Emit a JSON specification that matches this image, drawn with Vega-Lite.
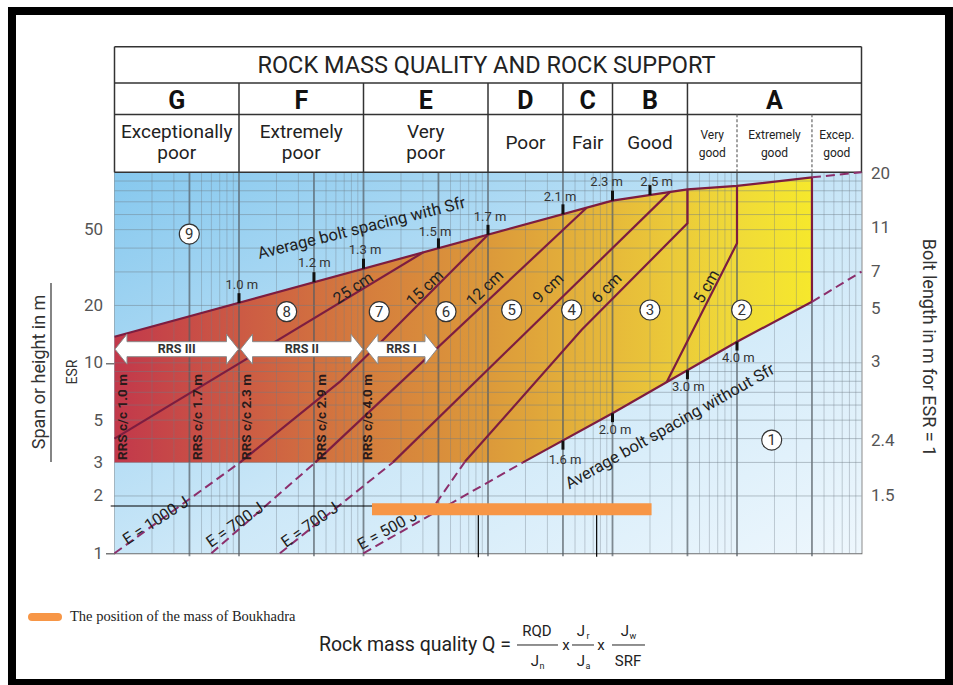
{
"$schema":"https://vega.github.io/schema/vega-lite/v6.json",
"width":747,"height":381,
"autosize":{"type":"none"},
"padding":{"left":114.5,"top":172.3,"right":91.5,"bottom":131.7},
"background":"white",
"config":{"view":{"stroke":"#6e6e6e","strokeWidth":1.2},"font":"Roboto"},
"datasets":{
"bg":[{"q":0.001,"q2":1000,"s":1,"s2":100}],
"area":[{"q":0.001,"s":3,"s2":13.7},{"q":1.91,"s":3,"s2":52.8},{"q":10,"s":5.43,"s2":71},{"q":40,"s":9.14,"s2":81.4},{"q":100,"s":12.9,"s2":84.8},{"q":400,"s":20.9,"s2":94.1}],
"vmin":[{"q":0.002,"s":1,"s2":100},{"q":0.003,"s":1,"s2":100},{"q":0.005,"s":1,"s2":100},{"q":0.006,"s":1,"s2":100},{"q":0.007,"s":1,"s2":100},{"q":0.008,"s":1,"s2":100},{"q":0.009,"s":1,"s2":100},{"q":0.02,"s":1,"s2":100},{"q":0.03,"s":1,"s2":100},{"q":0.05,"s":1,"s2":100},{"q":0.06,"s":1,"s2":100},{"q":0.07,"s":1,"s2":100},{"q":0.08,"s":1,"s2":100},{"q":0.09,"s":1,"s2":100},{"q":0.2,"s":1,"s2":100},{"q":0.3,"s":1,"s2":100},{"q":0.5,"s":1,"s2":100},{"q":0.6,"s":1,"s2":100},{"q":0.7,"s":1,"s2":100},{"q":0.8,"s":1,"s2":100},{"q":0.9,"s":1,"s2":100},{"q":2,"s":1,"s2":100},{"q":3,"s":1,"s2":100},{"q":5,"s":1,"s2":100},{"q":6,"s":1,"s2":100},{"q":7,"s":1,"s2":100},{"q":8,"s":1,"s2":100},{"q":9,"s":1,"s2":100},{"q":20,"s":1,"s2":100},{"q":30,"s":1,"s2":100},{"q":50,"s":1,"s2":100},{"q":60,"s":1,"s2":100},{"q":70,"s":1,"s2":100},{"q":80,"s":1,"s2":100},{"q":90,"s":1,"s2":100},{"q":200,"s":1,"s2":100},{"q":300,"s":1,"s2":100},{"q":500,"s":1,"s2":100},{"q":600,"s":1,"s2":100},{"q":700,"s":1,"s2":100},{"q":800,"s":1,"s2":100},{"q":900,"s":1,"s2":100}],
"vmaj":[{"q":0.004,"s":0.965,"s2":100},{"q":0.01,"s":0.965,"s2":100},{"q":0.04,"s":0.965,"s2":100},{"q":0.1,"s":0.965,"s2":100},{"q":0.4,"s":0.965,"s2":100},{"q":1,"s":0.965,"s2":100},{"q":4,"s":0.965,"s2":100},{"q":10,"s":0.965,"s2":100},{"q":40,"s":0.965,"s2":100},{"q":100,"s":0.965,"s2":100},{"q":400,"s":0.965,"s2":100}],
"hg":[{"q":0.001,"q2":1000,"s":2},{"q":0.001,"q2":1000,"s":3},{"q":0.001,"q2":1000,"s":4},{"q":0.001,"q2":1000,"s":5},{"q":0.001,"q2":1000,"s":6},{"q":0.001,"q2":1000,"s":7},{"q":0.001,"q2":1000,"s":8},{"q":0.001,"q2":1000,"s":9},{"q":0.001,"q2":1000,"s":10},{"q":0.001,"q2":1000,"s":20},{"q":0.001,"q2":1000,"s":30},{"q":0.001,"q2":1000,"s":40},{"q":0.001,"q2":1000,"s":50},{"q":0.001,"q2":1000,"s":60},{"q":0.001,"q2":1000,"s":70},{"q":0.001,"q2":1000,"s":80},{"q":0.001,"q2":1000,"s":90}],
"hdr":[{"q":0.001,"q2":1000,"s":456.3,"s2":456.3},{"q":0.001,"q2":1000,"s":294.2,"s2":294.2},{"q":0.001,"q2":1000,"s":200.9,"s2":200.9},{"q":0.001,"q2":1000,"s":100,"s2":100},{"q":0.001,"q2":0.001,"s":100,"s2":456.3},{"q":1000,"q2":1000,"s":100,"s2":456.3},{"q":0.01,"q2":0.01,"s":100,"s2":294.2},{"q":0.1,"q2":0.1,"s":100,"s2":294.2},{"q":1,"q2":1,"s":100,"s2":294.2},{"q":4,"q2":4,"s":100,"s2":294.2},{"q":10,"q2":10,"s":100,"s2":294.2},{"q":40,"q2":40,"s":100,"s2":294.2}],
"hdash":[{"q":100,"q2":100,"s":100,"s2":200.9},{"q":400,"q2":400,"s":100,"s2":200.9}],
"htitle":[{"q":0.973,"s":362,"t":"ROCK MASS QUALITY AND ROCK SUPPORT"}],
"hlet":[{"q":0.003162,"s":236.8,"t":"G"},{"q":0.03162,"s":236.8,"t":"F"},{"q":0.3162,"s":236.8,"t":"E"},{"q":2,"s":236.8,"t":"D"},{"q":6.325,"s":236.8,"t":"C"},{"q":20,"s":236.8,"t":"B"},{"q":200,"s":236.8,"t":"A"}],
"hdesc":[{"q":0.003162,"s":161.8,"t":"Exceptionally\npoor"},{"q":0.03162,"s":161.8,"t":"Extremely\npoor"},{"q":0.3162,"s":161.8,"t":"Very\npoor"},{"q":2,"s":142.6,"t":"Poor"},{"q":6.325,"s":142.6,"t":"Fair"},{"q":20,"s":142.6,"t":"Good"}],
"hsmall":[{"q":63.25,"s":157,"t":"Very\ngood"},{"q":200,"s":157,"t":"Extremely\ngood"},{"q":632.5,"s":157,"t":"Excep.\ngood"}],
"sol":[{"id":"up","i":0,"q":0.001,"s":13.7},{"id":"up","i":1,"q":10,"s":71},{"id":"up","i":2,"q":40,"s":81.4},{"id":"up","i":3,"q":100,"s":84.8},{"id":"up","i":4,"q":400,"s":94.1},
{"id":"lo","i":0,"q":1.91,"s":3},{"id":"lo","i":1,"q":10,"s":5.43},{"id":"lo","i":2,"q":100,"s":12.9},{"id":"lo","i":3,"q":400,"s":20.9},
{"id":"c25","i":0,"q":0.001,"s":4.0},{"id":"c25","i":1,"q":0.302,"s":38.0},
{"id":"c15","i":0,"q":0.0102,"s":3},{"id":"c15","i":1,"q":0.0647,"s":7.96},{"id":"c15","i":2,"q":0.144,"s":13.2},{"id":"c15","i":3,"q":1,"s":47.0},
{"id":"c12","i":0,"q":0.041,"s":3},{"id":"c12","i":1,"q":6.2,"s":65.2},
{"id":"c9","i":0,"q":0.172,"s":3},{"id":"c9","i":1,"q":29,"s":78.9},
{"id":"c6","i":0,"q":0.654,"s":3.03},{"id":"c6","i":1,"q":5.66,"s":14.9},{"id":"c6","i":2,"q":40,"s":54},{"id":"c6","i":3,"q":40,"s":81.4},
{"id":"c5","i":0,"q":27.2,"s":7.9},{"id":"c5","i":1,"q":100,"s":42.4},{"id":"c5","i":2,"q":100,"s":84.8},
{"id":"r4","i":0,"q":400,"s":20.9},{"id":"r4","i":1,"q":400,"s":94.1}],
"dsh":[{"id":"up2","i":0,"q":400,"s":94.1},{"id":"up2","i":1,"q":1000,"s":100},
{"id":"lo2","i":0,"q":400,"s":20.9},{"id":"lo2","i":1,"q":1000,"s":30.1},
{"id":"lo0","i":0,"q":0.0996,"s":1.0},{"id":"lo0","i":1,"q":1.91,"s":3},
{"id":"e1","i":0,"q":0.001,"s":1},{"id":"e1","i":1,"q":0.0102,"s":3},
{"id":"e2","i":0,"q":0.006,"s":1},{"id":"e2","i":1,"q":0.041,"s":3},
{"id":"e3","i":0,"q":0.0213,"s":1},{"id":"e3","i":1,"q":0.172,"s":3},
{"id":"d6","i":0,"q":0.33,"s":1.59},{"id":"d6","i":1,"q":0.654,"s":3.03}],
"bt":[{"q":0.01,"s":20.6,"s2":23.2},{"q":0.04,"s":26.5,"s2":29.9},{"q":0.1,"s":31.2,"s2":35.2},{"q":0.4,"s":39.9,"s2":45.0},{"q":1,"s":47.0,"s2":53.0},{"q":4,"s":60.2,"s2":67.9},{"q":10,"s":71.0,"s2":80.1},{"q":20,"s":76.0,"s2":85.7},{"q":4,"s":3.9,"s2":3.5},{"q":10,"s":5.43,"s2":4.88},{"q":40,"s":9.14,"s2":8.2},{"q":100,"s":12.9,"s2":11.6}],
"bl":[{"q":0.01052,"s":25.6,"t":"1.0 m"},{"q":0.0402,"s":33.3,"t":"1.2 m"},{"q":0.1028,"s":39.1,"t":"1.3 m"},{"q":0.3753,"s":48.8,"t":"1.5 m"},{"q":1.038,"s":58.5,"t":"1.7 m"},{"q":3.785,"s":74.5,"t":"2.1 m"},{"q":8.98,"s":89.3,"t":"2.3 m"},{"q":22.6,"s":89.3,"t":"2.5 m"},{"q":4.155,"s":3.09,"t":"1.6 m"},{"q":10.47,"s":4.44,"t":"2.0 m"},{"q":40.6,"s":7.49,"t":"3.0 m"},{"q":102.4,"s":10.56,"t":"4.0 m"}],
"ang":[{"q":0.0828,"s":24.6,"t":"25 cm","a":-34,"fs":16},{"q":0.312,"s":24.6,"t":"15 cm","a":-44,"fs":16},{"q":0.946,"s":24.6,"t":"12 cm","a":-44,"fs":16},{"q":3.05,"s":24.6,"t":"9 cm","a":-44,"fs":16},{"q":8.98,"s":24.6,"t":"6 cm","a":-45,"fs":16},{"q":57.1,"s":25.1,"t":"5 cm","a":-60,"fs":16},
{"q":0.0967,"s":50.8,"t":"Average bolt spacing with Sfr","a":-14,"fs":16.5},{"q":28.97,"s":4.62,"t":"Average bolt spacing without Sfr","a":-29.5,"fs":16.5},
{"q":0.002146,"s":1.481,"t":"E = 1000 J","a":-33,"fs":16},{"q":0.00929,"s":1.408,"t":"E = 700 J","a":-35,"fs":16},{"q":0.0372,"s":1.408,"t":"E = 700 J","a":-35,"fs":16},{"q":0.156,"s":1.325,"t":"E = 500 J","a":-29,"fs":16}],
"rrs":[{"q":0.001177,"s":3.09,"t":"RRS  c/c 1.0 m"},{"q":0.00471,"s":3.09,"t":"RRS  c/c 1.7 m"},{"q":0.01153,"s":3.09,"t":"RRS  c/c 2.3 m"},{"q":0.0461,"s":3.09,"t":"RRS  c/c 2.9 m"},{"q":0.1094,"s":3.09,"t":"RRS  c/c 4.0 m"}],
"arr":[{"q":0.003162,"s":11.79,"k":"III","t":"RRS III"},{"q":0.03192,"s":11.79,"k":"II","t":"RRS II"},{"q":0.2019,"s":11.79,"k":"I","t":"RRS I"}],
"circ":[{"q":0.00399,"s":47.4,"t":"9"},{"q":0.02415,"s":18.55,"t":"8"},{"q":0.1339,"s":18.55,"t":"7"},{"q":0.46,"s":18.55,"t":"6"},{"q":1.55,"s":18.93,"t":"5"},{"q":4.7,"s":18.93,"t":"4"},{"q":20,"s":18.93,"t":"3"},{"q":109,"s":18.93,"t":"2"},{"q":190,"s":3.93,"t":"1"}],
"bk":[{"q":0.000932,"q2":0.117,"s":1.771,"s2":1.771},{"q":0.836,"q2":0.836,"s":0.953,"s2":1.589},{"q":7.46,"q2":7.46,"s":0.96,"s2":1.589}],
"ob":[{"q":0.117,"q2":20.6,"s":1.704}],
"sw":[{"q":0.0002175,"q2":0.0003517,"s":0.463}],
"leg":[{"q":0.000439,"s":0.463,"t":"The position of the mass of Boukhadra"}],
"fm":[{"q":1.53,"s":0.3301,"t":"Rock mass quality  Q ="}],
"fp":[{"q":2.475,"s":0.391,"t":"RQD","fs":15},{"q":2.385,"s":0.272,"t":"J","fs":15},{"q":2.715,"s":0.2561,"t":"n","fs":9},{"q":4.231,"s":0.3301,"t":"x","fs":15},{"q":5.585,"s":0.391,"t":"J","fs":15},{"q":6.356,"s":0.3681,"t":"r","fs":9},{"q":5.585,"s":0.272,"t":"J","fs":15},{"q":6.356,"s":0.2561,"t":"a","fs":9},{"q":8.08,"s":0.3301,"t":"x","fs":15},{"q":12.6,"s":0.391,"t":"J","fs":15},{"q":14.61,"s":0.3681,"t":"w","fs":9},{"q":13.32,"s":0.272,"t":"SRF","fs":15}],
"fb":[{"q":1.71,"q2":3.649,"s":0.3301},{"q":4.729,"q2":7.101,"s":0.3301},{"q":9.91,"q2":18.24,"s":0.3301}],
"ttl":[{"q":0.0002521,"s":8.95,"t":"Span or height in m","a":270,"fs":18},{"q":0.0004642,"s":8.95,"t":"ESR","a":270,"fs":14},{"q":3420,"s":12.03,"t":"Bolt length in m for ESR = 1","a":90,"fs":18}],
"tbar":[{"q":0.000309,"s":3.015,"s2":26.2}],
"frame":[{"q":0.0001502,"q2":5043,"s":0.2085,"s2":702.6}]
},
"encoding":{
"x":{"field":"q","type":"quantitative","scale":{"type":"log","domain":[0.001,1000],"nice":false},"axis":null},
"y":{"field":"s","type":"quantitative","scale":{"type":"log","domain":[1,100],"nice":false},"axis":null}
},
"layer":[
{"data":{"name":"bg"},"mark":{"type":"rect","fill":{"gradient":"linear","x1":0,"y1":0,"x2":1,"y2":1,"stops":[{"offset":0,"color":"#86c8ee"},{"offset":0.55,"color":"#cde8f8"},{"offset":1,"color":"#eef7fd"}]}},
"encoding":{
"x":{"field":"q","type":"quantitative","scale":{"type":"log","domain":[0.001,1000],"nice":false},"axis":{"values":[0.001,0.004,0.01,0.04,0.1,0.4,1,4,10,40,100,400],"format":"~g","title":null,"grid":false,"domain":false,"tickSize":7,"tickColor":"#8a8a8a","tickWidth":1.5,"labelFontSize":17,"labelColor":"#555","labelPadding":8,"labelOverlap":false,"labelFlush":false}},
"x2":{"field":"q2"},
"y":{"field":"s","type":"quantitative","scale":{"type":"log","domain":[1,100],"nice":false},"axis":{"values":[1,2,3,5,10,20,50],"format":"~g","title":null,"grid":false,"domain":false,"tickSize":9,"tickWidth":1.2,"tickColor":{"condition":{"test":"datum.value===1||datum.value===10","value":"#555"},"value":"transparent"},"labelFontSize":17,"labelColor":"#555","labelPadding":3,"labelOverlap":false,"labelFlush":false}},
"y2":{"field":"s2"}}},
{"data":{"name":"area"},"mark":{"type":"area","fill":{"gradient":"linear","x1":0,"y1":0,"x2":1,"y2":0,"stops":[{"offset":0,"color":"#c2384b"},{"offset":0.18,"color":"#cc5a44"},{"offset":0.36,"color":"#d57d3d"},{"offset":0.54,"color":"#dc9a3a"},{"offset":0.71,"color":"#e6b93a"},{"offset":0.89,"color":"#f0da38"},{"offset":1,"color":"#f6e82c"}]}},
"encoding":{
"y":{"field":"s","type":"quantitative","scale":{"type":"log","domain":[1,100],"nice":false},"axis":{"orient":"right","values":[99,51.6,30,19.2,10.1,3.93,2.02],"labelExpr":"datum.value > 80 ? '20' : datum.value > 40 ? '11' : datum.value > 25 ? '7' : datum.value > 15 ? '5' : datum.value > 8 ? '3' : datum.value > 3 ? '2.4' : '1.5'","title":null,"grid":false,"domain":false,"ticks":false,"labelPadding":9,"labelFontSize":17,"labelColor":"#555","labelOverlap":false,"labelFlush":false}},
"y2":{"field":"s2"}}},
{"data":{"name":"vmin"},"mark":{"type":"rule","stroke":"#6f7c86","strokeOpacity":0.45,"strokeWidth":0.8},"encoding":{"y2":{"field":"s2"}}},
{"data":{"name":"vmaj"},"mark":{"type":"rule","stroke":"#545d64","strokeOpacity":0.7,"strokeWidth":1.8},"encoding":{"y2":{"field":"s2"}}},
{"data":{"name":"hg"},"mark":{"type":"rule","stroke":"#6f7c86","strokeOpacity":0.5,"strokeWidth":0.9},"encoding":{"x2":{"field":"q2"}}},
{"data":{"name":"hdr"},"mark":{"type":"rule","stroke":"#333","strokeWidth":1.5},"encoding":{"x2":{"field":"q2"},"y2":{"field":"s2"}}},
{"data":{"name":"hdash"},"mark":{"type":"rule","stroke":"#666","strokeWidth":1.2,"strokeDash":[3,2]},"encoding":{"x2":{"field":"q2"},"y2":{"field":"s2"}}},
{"data":{"name":"htitle"},"mark":{"type":"text","fontSize":23.5,"color":"#222"},"encoding":{"text":{"field":"t"}}},
{"data":{"name":"hlet"},"mark":{"type":"text","fontSize":25,"fontWeight":"bold","color":"#111"},"encoding":{"text":{"field":"t"}}},
{"data":{"name":"hdesc"},"mark":{"type":"text","fontSize":19,"lineBreak":"\n","lineHeight":21,"color":"#222"},"encoding":{"text":{"field":"t"}}},
{"data":{"name":"hsmall"},"mark":{"type":"text","fontSize":12,"lineBreak":"\n","lineHeight":18,"color":"#222"},"encoding":{"text":{"field":"t"}}},
{"data":{"name":"sol"},"mark":{"type":"line","stroke":"#7d1d40","strokeWidth":2.2},"encoding":{"detail":{"field":"id"},"order":{"field":"i"}}},
{"data":{"name":"dsh"},"mark":{"type":"line","stroke":"#8c2f6c","strokeWidth":2,"strokeDash":[9,5]},"encoding":{"detail":{"field":"id"},"order":{"field":"i"}}},
{"data":{"name":"bt"},"mark":{"type":"rule","stroke":"#111","strokeWidth":3},"encoding":{"y2":{"field":"s2"}}},
{"data":{"name":"bl"},"mark":{"type":"text","fontSize":13,"color":"#333"},"encoding":{"text":{"field":"t"}}},
{"data":{"name":"ang"},"mark":{"type":"text","color":"#222"},"encoding":{"text":{"field":"t"},"angle":{"field":"a","type":"quantitative","scale":null},"size":{"field":"fs","type":"quantitative","scale":null,"legend":null}}},
{"data":{"name":"rrs"},"mark":{"type":"text","angle":270,"align":"left","fontSize":13.5,"fontWeight":"bold","color":"#2a1a1a"},"encoding":{"text":{"field":"t"}}},
{"data":{"name":"arr"},"mark":{"type":"point","filled":true,"fill":"white","stroke":"#8a8a8a","strokeWidth":1,"size":900,"opacity":1},
"encoding":{"shape":{"field":"k","type":"nominal","scale":{"domain":["III","II","I"],"range":["M-4.117,0L-3.317,-1L-3.317,-0.5L3.317,-0.5L3.317,-1L4.117,0L3.317,1L3.317,0.5L-3.317,0.5L-3.317,1Z","M-4.083,0L-3.283,-1L-3.283,-0.5L3.283,-0.5L3.283,-1L4.083,0L3.283,1L3.283,0.5L-3.283,0.5L-3.283,1Z","M-2.367,0L-1.567,-1L-1.567,-0.5L1.567,-0.5L1.567,-1L2.367,0L1.567,1L1.567,0.5L-1.567,0.5L-1.567,1Z"]},"legend":null}}},
{"data":{"name":"arr"},"mark":{"type":"text","fontSize":12.5,"fontWeight":"bold","color":"#333"},"encoding":{"text":{"field":"t"}}},
{"data":{"name":"circ"},"mark":{"type":"point","shape":"circle","filled":true,"fill":"white","stroke":"#333","strokeWidth":1.2,"size":400,"opacity":1}},
{"data":{"name":"circ"},"mark":{"type":"text","fontSize":15,"color":"#333"},"encoding":{"text":{"field":"t"}}},
{"data":{"name":"bk"},"mark":{"type":"rule","stroke":"#000","strokeWidth":1.2},"encoding":{"x2":{"field":"q2"},"y2":{"field":"s2"}}},
{"data":{"name":"ob"},"mark":{"type":"rule","stroke":"#f79646","strokeWidth":12},"encoding":{"x2":{"field":"q2"}}},
{"data":{"name":"sw"},"mark":{"type":"rule","stroke":"#f79646","strokeWidth":8,"strokeCap":"round"},"encoding":{"x2":{"field":"q2"}}},
{"data":{"name":"leg"},"mark":{"type":"text","font":"Liberation Serif","fontSize":14.5,"align":"left","color":"#222"},"encoding":{"text":{"field":"t"}}},
{"data":{"name":"fm"},"mark":{"type":"text","fontSize":19.5,"align":"right","color":"#222"},"encoding":{"text":{"field":"t"}}},
{"data":{"name":"fp"},"mark":{"type":"text","color":"#222"},"encoding":{"text":{"field":"t"},"size":{"field":"fs","type":"quantitative","scale":null,"legend":null}}},
{"data":{"name":"fb"},"mark":{"type":"rule","stroke":"#222","strokeWidth":1},"encoding":{"x2":{"field":"q2"}}},
{"data":{"name":"ttl"},"mark":{"type":"text","color":"#333"},"encoding":{"text":{"field":"t"},"angle":{"field":"a","type":"quantitative","scale":null},"size":{"field":"fs","type":"quantitative","scale":null,"legend":null}}},
{"data":{"name":"tbar"},"mark":{"type":"rule","stroke":"#333","strokeWidth":1.2},"encoding":{"y2":{"field":"s2"}}},
{"data":{"name":"frame"},"mark":{"type":"rect","filled":false,"stroke":"#000","strokeWidth":8},"encoding":{"x2":{"field":"q2"},"y2":{"field":"s2"}}}
],
"resolve":{"axis":{"y":"independent"}}
}
